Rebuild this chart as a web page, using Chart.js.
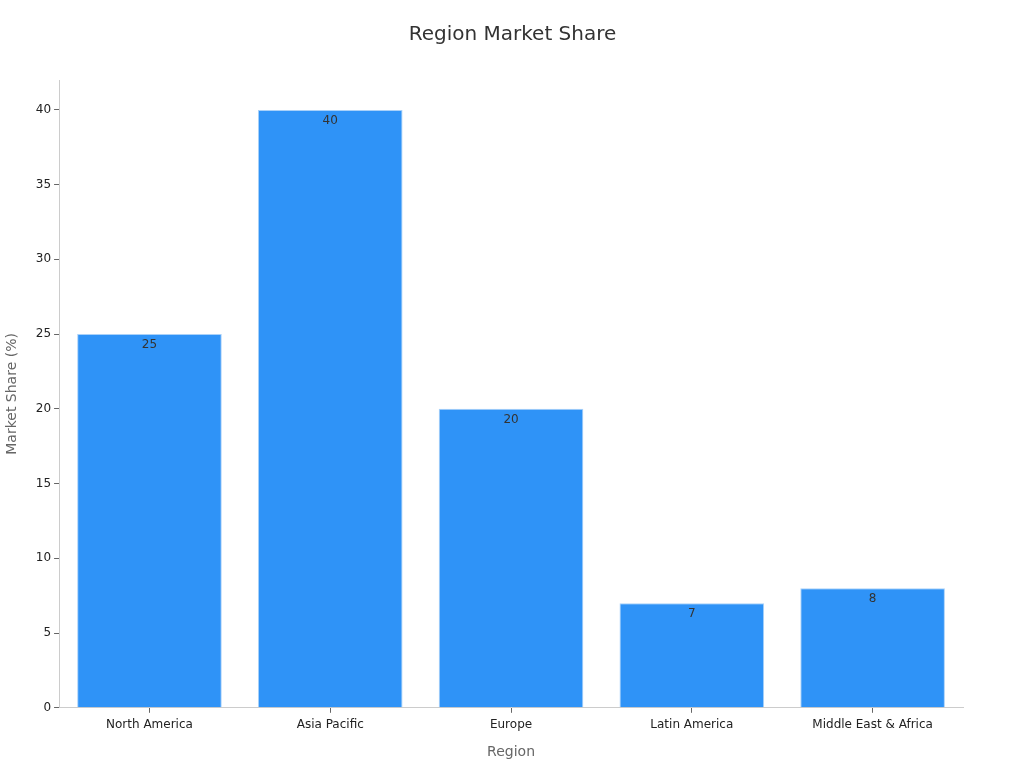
<!DOCTYPE html>
<html>
<head>
<meta charset="utf-8">
<script src="https://cdn.jsdelivr.net/npm/chart.js@4/dist/chart.umd.min.js"></script>
<style>
  html, body { margin: 0; padding: 0; background: #fff; }
  #wrap { width: 1024px; height: 768px; }
</style>
</head>
<body>
<div id="wrap"><canvas id="chartRegion"></canvas></div>
<script>
const regions = ['North America', 'Asia Pacific', 'Europe', 'Latin America', 'Middle East & Africa']
const share = [25, 40, 20, 7, 8]

Chart.defaults.font.family = "'DejaVu Sans', sans-serif"

// numbers drawn just inside the top of each bar
const barLabels = {
    id: 'barLabels',
    afterDatasetsDraw(chart) {
        const ctx = chart.ctx
        const meta = chart.getDatasetMeta(0)
        ctx.save()
        ctx.font = "12px 'DejaVu Sans', sans-serif"
        ctx.fillStyle = '#333333'
        ctx.textAlign = 'center'
        ctx.textBaseline = 'top'
        meta.data.forEach((bar, i) => {
            ctx.fillText(share[i], bar.x, bar.y + 5)
        })
        ctx.restore()
    }
}

const context = document.getElementById('chartRegion').getContext('2d')

const chartRegion = new Chart(context, {
    type: 'bar',
    data: {
        labels: regions,
        datasets: [
            {
                label: 'Market Share',
                data: share,
                backgroundColor: '#2f93f7',
                borderColor: '#a9d1f9',
                borderWidth: 1,
                barPercentage: 0.8,
                categoryPercentage: 1.0
            }
        ]
    },
    options: {
        responsive: true,
        maintainAspectRatio: false,
        animation: false,
        layout: { padding: { left: 1, right: 0, top: 10, bottom: 3 } },
        plugins: {
            legend: { display: false },
            tooltip: { enabled: false },
            title: {
                display: true,
                text: 'Region Market Share',
                color: '#333333',
                font: { size: 20, weight: 'normal' },
                padding: { top: 13, bottom: 33 }
            }
        },
        scales: {
            x: {
                offset: true,
                grid: { display: true, offset: false, drawOnChartArea: false, drawTicks: true, tickLength: 5, color: '#666666' },
                border: { color: '#cccccc' },
                ticks: { color: '#222222', font: { size: 12 }, padding: 5 },
                title: { display: true, text: 'Region', color: '#666666', font: { size: 14 }, padding: { top: 7 } }
            },
            y: {
                min: 0,
                max: 42,
                grid: { display: true, drawOnChartArea: false, drawTicks: true, tickLength: 5, color: '#666666' },
                border: { color: '#cccccc' },
                ticks: { stepSize: 5, color: '#222222', font: { size: 12 }, padding: 3,
                    callback: v => v % 5 === 0 ? v : null },
                title: { display: true, text: 'Market Share (%)', color: '#666666', font: { size: 14 }, padding: { top: 3, bottom: 12 } }
            },
            // empty right-hand axis, only keeps space free on the right
            yRight: {
                position: 'right',
                display: true,
                grid: { display: false },
                border: { display: false },
                ticks: { display: false },
                afterFit: scale => { scale.width = 61 }
            }
        }
    },
    plugins: [barLabels]
})
</script>
</body>
</html>
